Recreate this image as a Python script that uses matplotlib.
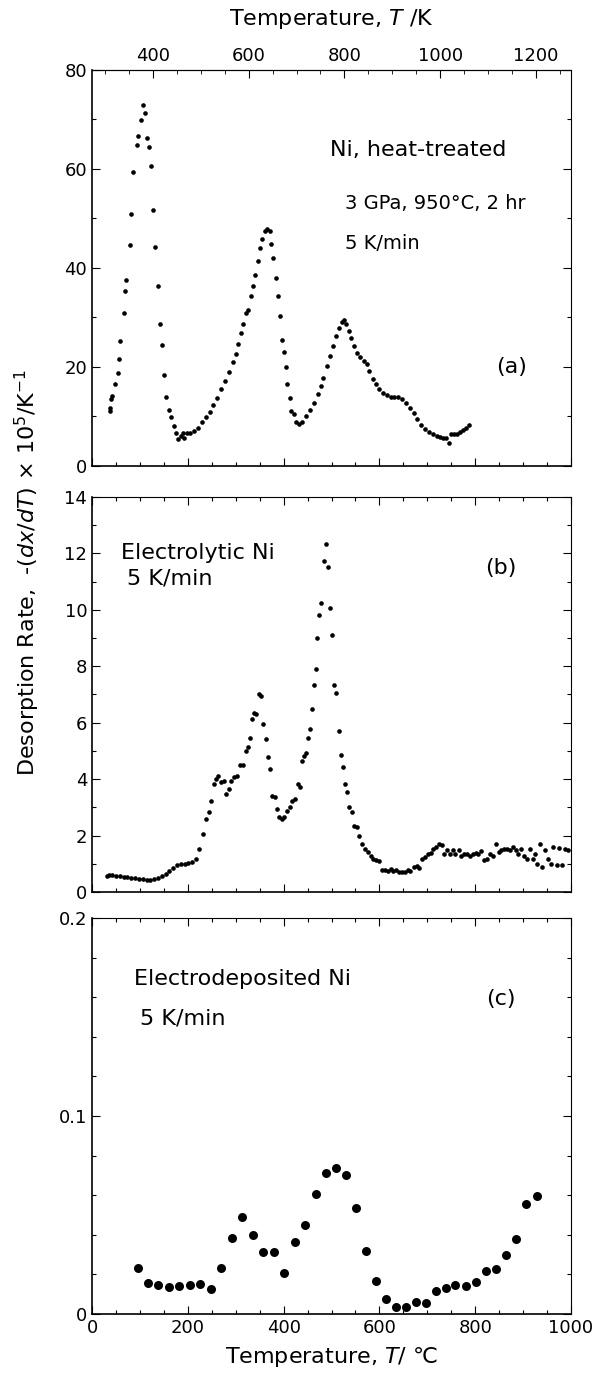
import numpy as np
import matplotlib
matplotlib.use("Agg")
import matplotlib.pyplot as plt
from matplotlib.ticker import MultipleLocator

# (a) Ni, heat-treated
temp_a = [36.8, 37.6, 39, 41.6, 48, 53.6, 56, 59.2, 66.4, 69.6, 72, 79.2, 82.4, 86.4, 93.6, 96.8,
          101.6, 106.4, 111.2, 114.4, 119.2, 123.2, 127.2, 132, 136.8, 141.6, 145.6, 149.6, 153.6,
          160, 165.6, 170.4, 175.2, 179.2, 184.8, 189.6, 192.8, 198.4, 205.6, 213.6, 221.6, 229.6,
          237.6, 245.6, 253.6, 261.6, 269.6, 277.6, 285.6, 293.6, 300, 305.6, 312, 316, 321.6,
          325.6, 331.2, 336, 340.8, 345.6, 350.4, 355.2, 360.8, 365.6, 371.2, 374.4, 378.4, 383.2,
          388, 392, 396, 400, 404, 408, 412.8, 416, 420.8, 426.4, 432.8, 439.2, 447.2, 455.2,
          463.2, 471.2, 477.6, 483.2, 489.6, 496, 502.4, 508.8, 515.2, 521.6, 526.4, 531.2, 536,
          540.8, 547.2, 553.6, 560, 567.2, 573.6, 579.2, 585.6, 592, 599.2, 607.2, 615.2, 623.2,
          631.2, 639.2, 647.2, 655.2, 663.2, 671.2, 679.2, 687.2, 695.2, 703.2, 711.2, 719.2,
          727.2, 733.6, 739.2, 744.8, 749.6, 755.2, 761.6, 768, 774.4, 780.8, 787.2]
rate_a = [11.1, 11.8, 13.5, 14.1, 16.5, 18.7, 21.6, 25.3, 30.8, 35.4, 37.6, 44.6, 50.9, 59.4, 64.9,
          66.7, 69.9, 73.0, 71.3, 66.3, 64.5, 60.6, 51.7, 44.3, 36.4, 28.6, 24.4, 18.3, 13.9, 11.4,
          9.9, 8.1, 6.7, 5.5, 6.1, 6.7, 5.7, 6.7, 6.7, 7.1, 7.7, 8.8, 9.8, 11.0, 12.3, 13.8, 15.5,
          17.2, 19.0, 20.9, 22.6, 24.6, 26.9, 28.6, 30.8, 31.6, 34.4, 36.4, 38.5, 41.4, 44.1, 45.8,
          47.4, 47.8, 47.4, 44.8, 42.1, 37.9, 34.4, 30.3, 25.5, 23.0, 20.0, 16.5, 13.8, 11.1, 10.4,
          8.8, 8.4, 8.9, 10.1, 11.4, 12.8, 14.5, 16.2, 17.8, 20.2, 22.2, 24.2, 26.3, 27.9, 29.1,
          29.5, 28.6, 27.3, 25.9, 24.2, 22.9, 22.1, 21.3, 20.5, 19.2, 17.5, 16.5, 15.6, 14.8, 14.3,
          14.0, 14.0, 14.0, 13.5, 12.8, 11.8, 10.6, 9.4, 8.2, 7.4, 6.9, 6.5, 6.1, 5.9, 5.7, 5.7,
          4.7, 6.4, 6.4, 6.4, 6.9, 7.3, 7.7, 8.2]

# (b) Electrolytic Ni
temp_b = [30.3, 35.8, 42.2, 50.2, 58.1, 66.1, 74, 82, 90, 97.9, 105.9, 113.9, 121.8, 129.8, 137.7,
          145.7, 153.7, 161.6, 169.6, 177.5, 185.5, 193.5, 201.4, 209.4, 217.4, 223.7, 230.9,
          237.3, 243.6, 249.2, 254.8, 258.8, 263.5, 269.1, 274.7, 278.7, 285, 290.6, 297, 302.5,
          308.9, 315.3, 320.9, 324.8, 329.6, 333.6, 338.4, 343.1, 347.9, 352.7, 357.5, 362.3,
          367, 371.8, 376.6, 381.4, 386.1, 390.9, 396.5, 401.3, 406.8, 412.4, 418, 424.4, 430.7,
          434.7, 439, 443, 447, 451, 455, 459, 463, 466.6, 470.5, 474.5, 478.5, 484, 488, 492,
          496, 500.8, 505.6, 510.4, 515.1, 519.9, 523.9, 527.9, 532.6, 537.4, 542.2, 547.8,
          553.3, 558, 563.7, 569.3, 575.6, 582, 587.6, 593.2, 599.5, 605, 611.5, 617.8, 623.4,
          629, 635.4, 641, 647.3, 652.9, 659.2, 664.8, 671.2, 677.5, 683.1, 688.7, 695.1, 700.6,
          707, 712.6, 719, 725.3, 730.9, 734.9, 741.2, 746.8, 753.2, 758.8, 765.1, 770.7, 777.1,
          782.6, 789, 794.6, 801, 806.5, 812.9, 818.5, 824.8, 830.4, 836.8, 842.4, 848.7, 854.3,
          860.7, 866.2, 872.6, 878.2, 884.6, 890.1, 895.7, 902.1, 907.6, 914, 919.6, 924.4, 929.9,
          935.5, 940.3, 945.9, 951.4, 957.8, 963.4, 969.7, 975.3, 981.7, 988, 993.6]
rate_b = [0.55, 0.59, 0.61, 0.56, 0.55, 0.54, 0.53, 0.51, 0.49, 0.47, 0.45, 0.42, 0.41, 0.45, 0.51,
          0.55, 0.62, 0.73, 0.86, 0.96, 1.0, 0.98, 1.02, 1.06, 1.18, 1.53, 2.06, 2.59, 2.82, 3.24,
          3.82, 4.0, 4.12, 3.88, 3.94, 3.47, 3.65, 3.94, 4.06, 4.12, 4.5, 4.5, 5.0, 5.12, 5.47,
          6.12, 6.35, 6.29, 7.0, 6.94, 5.94, 5.41, 4.79, 4.35, 3.41, 3.35, 2.94, 2.65, 2.59, 2.65,
          2.88, 3.0, 3.24, 3.29, 3.82, 3.73, 4.65, 4.82, 4.94, 5.47, 5.79, 6.47, 7.35, 7.91, 9.0,
          9.8, 10.24, 11.74, 12.34, 11.53, 10.06, 9.12, 7.35, 7.04, 5.71, 4.86, 4.44, 3.82, 3.55,
          3.0, 2.82, 2.35, 2.29, 2.0, 1.71, 1.53, 1.41, 1.29, 1.18, 1.12, 1.09, 0.76, 0.79, 0.74,
          0.82, 0.74, 0.79, 0.71, 0.69, 0.71, 0.76, 0.74, 0.88, 0.91, 0.86, 1.18, 1.24, 1.35, 1.38,
          1.53, 1.59, 1.71, 1.65, 1.35, 1.47, 1.35, 1.47, 1.33, 1.49, 1.29, 1.35, 1.35, 1.29, 1.35,
          1.38, 1.35, 1.45, 1.12, 1.18, 1.35, 1.29, 1.71, 1.41, 1.47, 1.53, 1.53, 1.47, 1.59, 1.49,
          1.35, 1.53, 1.29, 1.18, 1.53, 1.18, 1.35, 1.0, 1.71, 0.88, 1.47, 1.18, 1.0, 1.59, 0.94,
          1.56, 0.94, 1.53, 1.47]

# (c) Electrodeposited Ni
temp_c = [96.3, 117.8, 138.5, 160, 181.5, 203.8, 225.3, 247.6, 269.1, 291.4, 312.9, 335.2, 357.5,
          379, 401.3, 423.6, 445.1, 466.6, 488.1, 508.8, 529.5, 550.2, 571.7, 592.4, 613.9, 634.6,
          656.1, 676.8, 697.5, 718.2, 738.1, 758.8, 780.3, 801, 822.5, 843.2, 863.9, 885.4, 906.1,
          928.3]
rate_c = [0.0235, 0.0156, 0.0146, 0.0138, 0.0141, 0.0148, 0.0151, 0.0126, 0.0235, 0.0383, 0.0491,
          0.040, 0.0311, 0.0311, 0.0205, 0.0366, 0.045, 0.0608, 0.0711, 0.0736, 0.0701, 0.0538,
          0.0319, 0.0165, 0.0076, 0.0037, 0.0037, 0.0059, 0.0054, 0.0114, 0.0134, 0.0146, 0.0143,
          0.016, 0.0218, 0.0227, 0.0297, 0.0378, 0.0558, 0.0597]

plt.rcParams["font.family"] = "DejaVu Sans"
plt.rcParams["font.size"] = 13

fig = plt.figure(figsize=(5.99, 13.79), dpi=100)
ax_a = fig.add_axes([0.1536, 0.6621, 0.7997, 0.2872])
ax_b = fig.add_axes([0.1536, 0.3532, 0.7997, 0.2864])
ax_c = fig.add_axes([0.1536, 0.0471, 0.7997, 0.2872])

ax_a.scatter(temp_a, rate_a, s=11, color="black", linewidths=0)
ax_b.scatter(temp_b, rate_b, s=11, color="black", linewidths=0)
ax_c.scatter(temp_c, rate_c, s=42, color="black", linewidths=0)

ax_a.set_ylim(0, 80)
ax_a.yaxis.set_major_locator(MultipleLocator(20))
ax_a.yaxis.set_minor_locator(MultipleLocator(10))
ax_b.set_ylim(0, 14)
ax_b.yaxis.set_major_locator(MultipleLocator(2))
ax_b.yaxis.set_minor_locator(MultipleLocator(1))
ax_c.set_ylim(0, 0.2)
ax_c.yaxis.set_major_locator(MultipleLocator(0.1))
ax_c.yaxis.set_minor_locator(MultipleLocator(0.02))

for ax in (ax_a, ax_b, ax_c):
    ax.set_xlim(0, 1000)
    ax.xaxis.set_major_locator(MultipleLocator(200))
    ax.xaxis.set_minor_locator(MultipleLocator(50))
    ax.tick_params(which="both", direction="in", right=True, top=(ax is not ax_a), labelsize=13)
    ax.tick_params(which="major", length=6, width=0.8)
    ax.tick_params(which="minor", length=3, width=0.8)
    for s in ("left", "bottom"):
        ax.spines[s].set_linewidth(1.2)
    for s in ("top", "right"):
        ax.spines[s].set_linewidth(0.8)

ax_c.yaxis.set_major_formatter(plt.FuncFormatter(lambda v, p: "0" if v == 0 else "%g" % v))

ax_a.tick_params(labelbottom=False)
ax_b.tick_params(labelbottom=False)

sec = ax_a.secondary_xaxis("top", functions=(lambda c: c + 273, lambda k: k - 273))
sec.set_xticks([400, 600, 800, 1000, 1200])
sec.xaxis.set_minor_locator(MultipleLocator(50))
sec.tick_params(which="both", direction="in", labelsize=13)
sec.tick_params(which="major", length=6)
sec.tick_params(which="minor", length=3)
sec.set_xlabel("Temperature, $\\it{T}$ /K", fontsize=16, labelpad=16)

ax_c.set_xlabel("Temperature, $\\it{T}$/ \u2103", fontsize=16, labelpad=6)

fig.text(0.045, 0.585, "Desorption Rate,  -($\\it{dx/dT}$) \u00d7 10$^5$/K$^{-1}$",
         rotation=90, ha="center", va="center", fontsize=16)

ax_a.text(497, 63.8, "Ni, heat-treated", fontsize=16, va="center")
ax_a.text(528, 53.1, "3 GPa, 950\u00b0C, 2 hr", fontsize=14, va="center")
ax_a.text(528, 45, "5 K/min", fontsize=14, va="center")
ax_a.text(844, 20, "(a)", fontsize=16, va="center")

ax_b.text(60, 12, "Electrolytic Ni", fontsize=16, va="center")
ax_b.text(74, 11.1, "5 K/min", fontsize=16, va="center")
ax_b.text(821, 11.5, "(b)", fontsize=16, va="center")

ax_c.text(88, 0.169, "Electrodeposited Ni", fontsize=16, va="center")
ax_c.text(100, 0.149, "5 K/min", fontsize=16, va="center")
ax_c.text(822, 0.159, "(c)", fontsize=16, va="center")

plt.savefig("out.png", dpi=100)
